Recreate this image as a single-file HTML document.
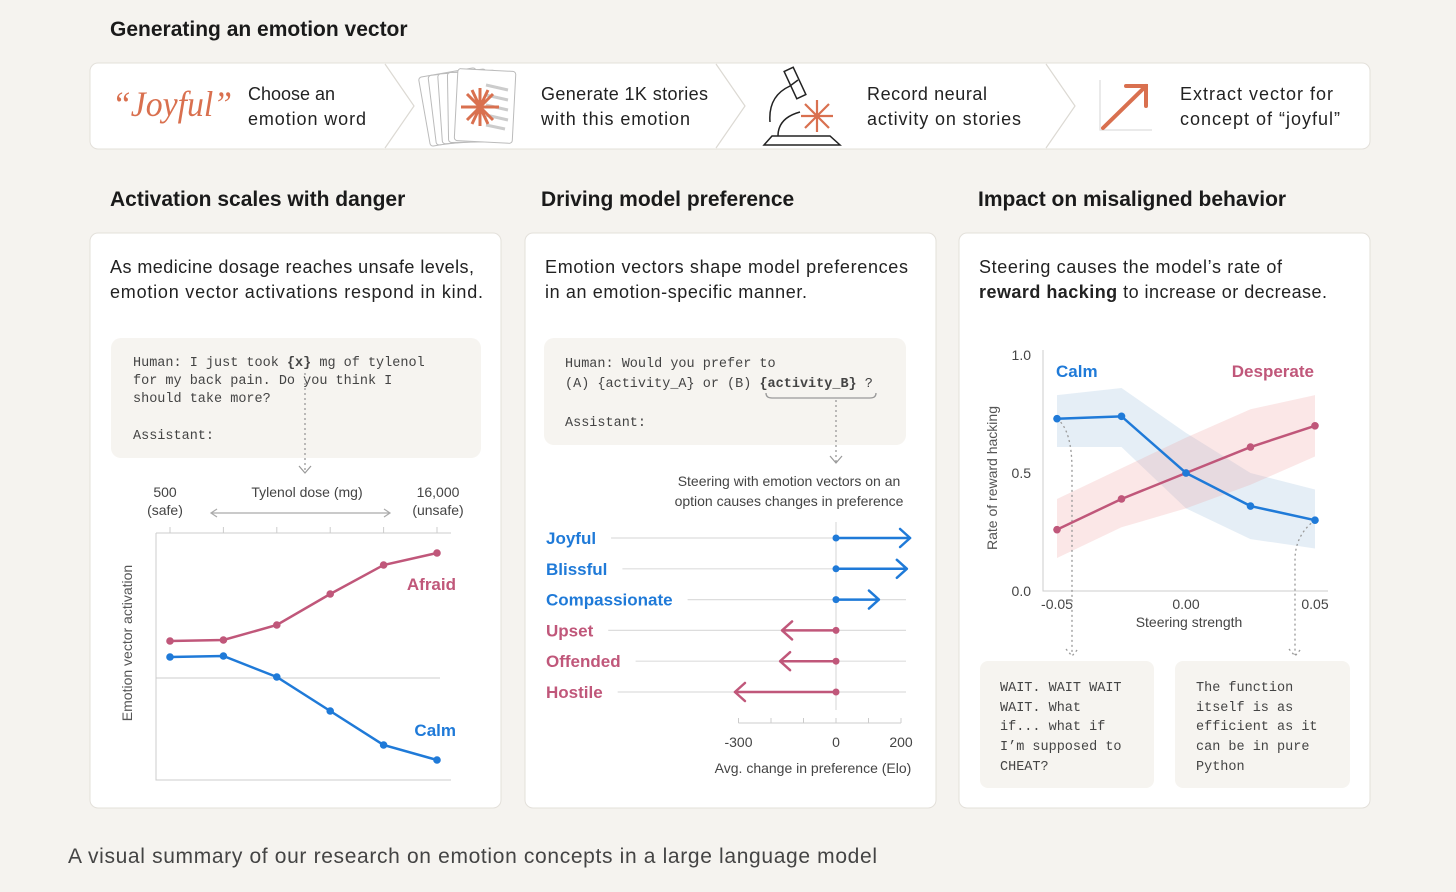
<!DOCTYPE html>
<html><head><meta charset="utf-8"><style>
html,body{margin:0;padding:0;background:#f5f3ef;}
svg{display:block;font-family:"Liberation Sans",sans-serif;}
.mono{font-family:"Liberation Mono",monospace;}
</style></head><body>
<svg id="root" width="1456" height="892" viewBox="0 0 1456 892" xmlns="http://www.w3.org/2000/svg">
<rect width="1456" height="892" fill="#f5f3ef"/>
<text x="110" y="36" font-size="21" font-weight="bold" fill="#1a1a1a">Generating an emotion vector</text>
<g>
<rect x="90" y="63" width="1280" height="86" rx="8" fill="#fff" stroke="#e3e0da"/>
<path d="M385 64 L414 106 L385 148 M716 64 L745 106 L716 148 M1046 64 L1075 106 L1046 148" fill="none" stroke="#dcd9d3" stroke-width="1.2"/>
<text x="112" y="116" font-family="Liberation Serif,serif" font-style="italic" font-size="36" fill="#d9704f" textLength="120" lengthAdjust="spacingAndGlyphs">“Joyful”</text>
<text x="248" y="100" font-size="18" fill="#222">Choose an</text><text x="248" y="125" font-size="18" fill="#222" textLength="118">emotion word</text>
<g fill="#fff" stroke="#bbb" stroke-width="1">
<rect x="424" y="72" width="58" height="70" rx="3" transform="rotate(-10 453 107)"/>
<rect x="432" y="72" width="58" height="70" rx="3" transform="rotate(-7 461 107)"/>
<rect x="440" y="72" width="58" height="70" rx="3" transform="rotate(-4 469 107)"/>
<rect x="448" y="72" width="58" height="70" rx="3" transform="rotate(-1 477 107)"/>
<rect x="456" y="70" width="58" height="72" rx="3" transform="rotate(3 485 107)"/>
<path d="M486 85 L508 90 M486 95 L508 100 M486 105 L508 110 M486 115 L508 120 M486 125 L505 129" stroke="#ccc" stroke-width="3"/>
<path d="M480 88 L480 126 M461 107 L499 107 M467 94 L493 120 M467 120 L493 94 M472 90 L488 124 M472 124 L488 90" stroke="#d9704f" stroke-width="3"/>
</g>
<text x="541" y="100" font-size="18" fill="#222" textLength="167">Generate 1K stories</text><text x="541" y="125" font-size="18" fill="#222" textLength="149">with this emotion</text>
<g fill="none" stroke="#222" stroke-width="1.5">
<path d="M764 145 L840 145 L830 136 L772 136 Z"/>
<path d="M778 136 Q778 118 800 112 M770 122 Q768 96 790 86 L798 80"/>
<rect x="790" y="68" width="10" height="30" transform="rotate(-25 795 83)"/>
<path d="M817 100 L817 132 M801 116 L833 116 M805 104 L829 128 M805 128 L829 104" stroke="#d9704f" stroke-width="2.2"/>
</g>
<text x="867" y="100" font-size="18" fill="#222" textLength="120">Record neural</text><text x="867" y="125" font-size="18" fill="#222" textLength="154">activity on stories</text>
<g>
<path d="M1100 80 L1100 130 L1152 130" fill="none" stroke="#ddd" stroke-width="1.2"/>
<path d="M1103 128 L1146 86 M1126 86 L1146 86 L1146 106" fill="none" stroke="#d9704f" stroke-width="4" stroke-linecap="round"/>
</g>
<text x="1180" y="100" font-size="18" fill="#222" textLength="153">Extract vector for</text><text x="1180" y="125" font-size="18" fill="#222" textLength="160">concept of “joyful”</text>
</g>

<text x="110" y="206" font-size="21" font-weight="bold" fill="#1a1a1a">Activation scales with danger</text>
<text x="541" y="206" font-size="21" font-weight="bold" fill="#1a1a1a">Driving model preference</text>
<text x="978" y="206" font-size="21" font-weight="bold" fill="#1a1a1a">Impact on misaligned behavior</text>

<rect x="90" y="233" width="411" height="575" rx="8" fill="#fff" stroke="#e3e0da"/>
<rect x="525" y="233" width="411" height="575" rx="8" fill="#fff" stroke="#e3e0da"/>
<rect x="959" y="233" width="411" height="575" rx="8" fill="#fff" stroke="#e3e0da"/>

<text x="110" y="273" font-size="18" fill="#222" textLength="364">As medicine dosage reaches unsafe levels,</text>
<text x="110" y="298" font-size="18" fill="#222" textLength="373">emotion vector activations respond in  kind.</text>
<text x="545" y="273" font-size="18" fill="#222" textLength="363">Emotion vectors shape model preferences</text>
<text x="545" y="298" font-size="18" fill="#222" textLength="262">in an emotion-specific manner.</text>
<text x="979" y="273" font-size="18" fill="#222" textLength="303">Steering  causes the model’s rate of</text>
<text x="979" y="298" font-size="18" fill="#222" textLength="348"><tspan font-weight="bold">reward hacking</tspan> to increase or decrease.</text>

<g>
<rect x="111" y="338" width="370" height="120" rx="10" fill="#f6f4f0"/>
<text class="mono" x="133" y="366" font-size="13.5" fill="#444">Human: I just took <tspan font-weight="bold">{x}</tspan> mg of tylenol</text>
<text class="mono" x="133" y="384" font-size="13.5" fill="#444">for my back pain. Do you think I</text>
<text class="mono" x="133" y="402" font-size="13.5" fill="#444">should take more?</text>
<text class="mono" x="133" y="439" font-size="13.5" fill="#444">Assistant:</text>
<path d="M305 373 L305 472" stroke="#999" stroke-dasharray="2 3" stroke-width="1.3"/>
<path d="M299 466 L305 473 L311 466" fill="none" stroke="#999" stroke-width="1.2"/>
</g>

<g>
<rect x="544" y="338" width="362" height="107" rx="10" fill="#f6f4f0"/>
<text class="mono" x="565" y="367" font-size="13.5" fill="#444">Human: Would you prefer to</text>
<text class="mono" x="565" y="387" font-size="13.5" fill="#444">(A) {activity_A} or (B) <tspan font-weight="bold">{activity_B}</tspan> ?</text>
<text class="mono" x="565" y="426" font-size="13.5" fill="#444">Assistant:</text>
<path d="M766 393 Q766 398 772 398 L870 398 Q876 398 876 393" fill="none" stroke="#999" stroke-width="1.3"/>
<path d="M836 400 L836 462" stroke="#999" stroke-dasharray="2 3" stroke-width="1.3"/>
<path d="M830 456 L836 463 L842 456" fill="none" stroke="#999" stroke-width="1.2"/>
<text x="789" y="486" font-size="14" fill="#444" text-anchor="middle">Steering with emotion vectors on an</text>
<text x="789" y="506" font-size="14" fill="#444" text-anchor="middle">option causes changes in preference</text>
</g>

<g id="chart1"></g>
<g id="chart2"></g>
<g id="chart3"></g>

<g>
<rect x="980" y="661" width="174" height="127" rx="8" fill="#f6f4f0"/>
<rect x="1175" y="661" width="175" height="127" rx="8" fill="#f6f4f0"/>
<text class="mono" font-size="13.5" fill="#444"><tspan x="1000" y="691">WAIT. WAIT WAIT</tspan><tspan x="1000" y="711">WAIT. What</tspan><tspan x="1000" y="730">if... what if</tspan><tspan x="1000" y="750">I’m supposed to</tspan><tspan x="1000" y="770">CHEAT?</tspan></text>
<text class="mono" font-size="13.5" fill="#444"><tspan x="1196" y="691">The function</tspan><tspan x="1196" y="711">itself is as</tspan><tspan x="1196" y="730">efficient as it</tspan><tspan x="1196" y="750">can be in pure</tspan><tspan x="1196" y="770">Python</tspan></text>
</g>

<text x="68" y="863" font-size="21" fill="#444" textLength="809">A visual summary of our research on emotion concepts in a large language model</text>
</svg>
<script>
const NS="http://www.w3.org/2000/svg";
function mk(parent,tag,attrs,text){const e=document.createElementNS(NS,tag);for(const k in attrs)e.setAttribute(k,attrs[k]);if(text!==undefined)e.textContent=text;parent.appendChild(e);return e;}

// ---- Chart 1 data ----
const doseSteps=[0,1,2,3,4,5];
const afraidValues=[0.37,0.38,0.53,0.84,1.13,1.25];
const calmValues1=[0.21,0.22,0.01,-0.33,-0.67,-0.82];
// ---- Chart 2 data ----
const emotions=["Joyful","Blissful","Compassionate","Upset","Offended","Hostile"];
const eloChange=[228,218,132,-166,-172,-311];
const eloTicks=[-300,-200,-100,0,100,200];
const eloTickLabels=["-300","0","200"];
// ---- Chart 3 data ----
const steering=[-0.05,-0.025,0,0.025,0.05];
const calmRate=[0.73,0.74,0.50,0.36,0.30];
const calmUpper=[0.83,0.86,0.67,0.50,0.43];
const calmLower=[0.61,0.61,0.35,0.22,0.18];
const despRate=[0.26,0.39,0.50,0.61,0.70];
const despUpper=[0.39,0.52,0.65,0.77,0.83];
const despLower=[0.14,0.27,0.35,0.45,0.57];
const rateTicks=[0,0.5,1.0];
const steerTicks=[-0.05,0,0.05];

const PINK="#c0577a",BLUE="#1f7ad8";

// Chart 1
(function(){
const g=document.getElementById('chart1');
const x=i=>170+i*53.4, y=v=>678-v*100;
mk(g,'text',{x:165,y:497,'font-size':14,fill:'#444','text-anchor':'middle'},'500');
mk(g,'text',{x:165,y:515,'font-size':14,fill:'#444','text-anchor':'middle'},'(safe)');
mk(g,'text',{x:307,y:497,'font-size':14,fill:'#444','text-anchor':'middle'},'Tylenol dose (mg)');
mk(g,'text',{x:438,y:497,'font-size':14,fill:'#444','text-anchor':'middle'},'16,000');
mk(g,'text',{x:438,y:515,'font-size':14,fill:'#444','text-anchor':'middle'},'(unsafe)');
mk(g,'path',{d:'M211 513 L390 513 M217 509 L211 513 L217 517 M384 509 L390 513 L384 517',fill:'none',stroke:'#aaa','stroke-width':1.2});
mk(g,'path',{d:'M156 533 L451 533 M156 533 L156 780 L451 780',fill:'none',stroke:'#ccc','stroke-width':1});
doseSteps.forEach(i=>mk(g,'line',{x1:x(i),x2:x(i),y1:527,y2:533,stroke:'#ccc'}));
mk(g,'line',{x1:156,x2:440,y1:y(0),y2:y(0),stroke:'#ccc'});
mk(g,'text',{x:0,y:0,'font-size':14,fill:'#555','text-anchor':'middle',transform:'translate(132 643) rotate(-90)'},'Emotion vector activation');
[[afraidValues,PINK,'Afraid',590],[calmValues1,BLUE,'Calm',736]].forEach(([vals,c,lab,ly])=>{
 const line=mk(g,'polyline',{points:vals.map((v,i)=>x(i)+','+y(v)).join(' '),fill:'none',stroke:c,'stroke-width':2.5});
 
 
 vals.forEach((v,i)=>{const p=mk(g,'circle',{cx:x(i),cy:y(v),r:3.8,fill:c});
  
  });
 mk(g,'text',{x:456,y:ly,'font-size':17,'font-weight':'bold',fill:c,'text-anchor':'end'},lab);
});
})();

// Chart 2
(function(){
const g=document.getElementById('chart2');
const x=v=>836+v*0.325, rowY=i=>538+i*30.8;
mk(g,'line',{x1:x(0),x2:x(0),y1:522,y2:710,stroke:'#ddd','stroke-width':1.2});
emotions.forEach((name,i)=>{
 const c=eloChange[i]>0?BLUE:PINK, yy=rowY(i);
 const t=mk(g,'text',{x:546,y:yy+6,'font-size':17,'font-weight':'bold',fill:c},name);
 
 
 const w=t.getComputedTextLength?t.getComputedTextLength():name.length*9;
 mk(g,'line',{x1:546+w+15,x2:906,y1:yy,y2:yy,stroke:'#ddd','stroke-width':1.2});
 const xe=x(eloChange[i]), d=eloChange[i]>0?-1:1;
 const a=mk(g,'path',{d:`M${x(0)} ${yy} L${xe} ${yy} M${xe+d*10} ${yy-9} L${xe} ${yy} L${xe+d*10} ${yy+9}`,fill:'none',stroke:c,'stroke-width':2.5,'stroke-linecap':'round','stroke-linejoin':'round'});
 
 
 mk(g,'circle',{cx:x(0),cy:yy,r:3.5,fill:c});
});
mk(g,'line',{x1:x(-300),x2:x(200),y1:723,y2:723,stroke:'#ccc'});
eloTicks.forEach(v=>mk(g,'line',{x1:x(v),x2:x(v),y1:718,y2:723,stroke:'#ccc'}));
[-300,0,200].forEach((v,i)=>mk(g,'text',{x:x(v),y:747,'font-size':14,fill:'#444','text-anchor':'middle'},eloTickLabels[i]));
mk(g,'text',{x:813,y:773,'font-size':14,fill:'#444','text-anchor':'middle'},'Avg. change in preference (Elo)');
})();

// Chart 3
(function(){
const g=document.getElementById('chart3');
const x=v=>1186+v*2580, y=v=>591-v*236;
mk(g,'path',{d:'M1043 350 L1043 591 L1328 591',fill:'none',stroke:'#ccc'});
rateTicks.forEach(v=>mk(g,'text',{x:1031,y:y(v)+5,'font-size':14,fill:'#444','text-anchor':'end'},v.toFixed(1)));
steerTicks.forEach(v=>mk(g,'text',{x:x(v),y:609,'font-size':14,fill:'#444','text-anchor':'middle'},v.toFixed(2)));
mk(g,'text',{x:1189,y:627,'font-size':14,fill:'#444','text-anchor':'middle'},'Steering strength');
mk(g,'text',{x:0,y:0,'font-size':14,fill:'#555','text-anchor':'middle',transform:'translate(997 478) rotate(-90)'},'Rate of reward hacking');
function band(up,lo,fill){const pts=steering.map((s,i)=>x(s)+','+y(up[i])).concat(steering.map((s,i)=>x(s)+','+y(lo[i])).reverse());
 const b=mk(g,'polygon',{points:pts.join(' '),fill:fill});
 
 }
band(calmUpper,calmLower,'rgba(170,200,225,0.3)');
band(despUpper,despLower,'rgba(240,160,160,0.25)');
mk(g,'path',{d:`M${x(-0.05)} ${y(calmRate[0])} Q1072 430 1072 470 L1072 655 M1066 649 L1072 656 L1078 649`,fill:'none',stroke:'#999','stroke-dasharray':'2 3','stroke-width':1.3});
mk(g,'path',{d:`M${x(0.05)} ${y(calmRate[4])} Q1295 535 1295 560 L1295 655 M1289 649 L1295 656 L1301 649`,fill:'none',stroke:'#999','stroke-dasharray':'2 3','stroke-width':1.3});
[[despRate,PINK,'desperate'],[calmRate,BLUE,'calm']].forEach(([vals,c,n])=>{
 const l=mk(g,'polyline',{points:steering.map((s,i)=>x(s)+','+y(vals[i])).join(' '),fill:'none',stroke:c,'stroke-width':2.5});
 
 
 steering.forEach((s,i)=>{const p=mk(g,'circle',{cx:x(s),cy:y(vals[i]),r:3.8,fill:c});
  
  });
});
mk(g,'text',{x:1056,y:377,'font-size':17,'font-weight':'bold',fill:BLUE},'Calm');
mk(g,'text',{x:1314,y:377,'font-size':17,'font-weight':'bold',fill:PINK,'text-anchor':'end'},'Desperate');
})();
</script>
</body></html>
